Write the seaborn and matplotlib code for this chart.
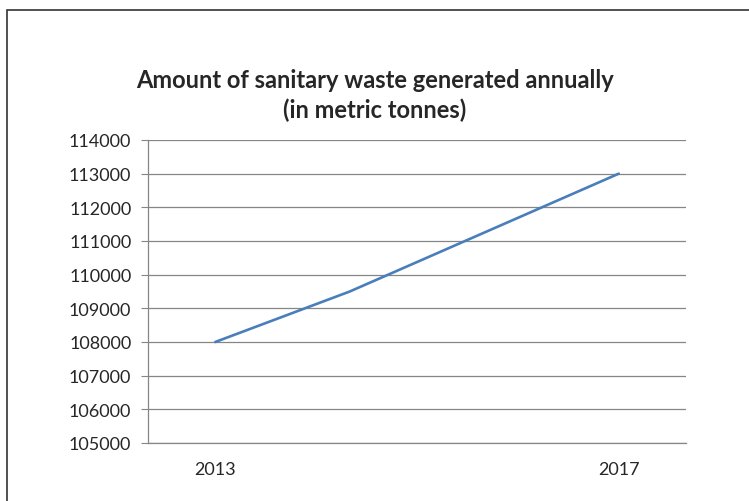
import seaborn as sns
import matplotlib.pyplot as plt
import pandas as pd
from matplotlib.patches import Rectangle

# data
positions = [0, 1, 2, 3]
year_labels = ["2013", "", "", "2017"]
waste = [108000, 109500, 111250, 113000]
y_ticks = list(range(105000, 114001, 1000))

df = pd.DataFrame({"pos": positions, "waste": waste})

sns.set_style("white")
plt.rcParams['font.family'] = ['Lato', 'DejaVu Sans']

fig = plt.figure(figsize=(7.49, 5.02), dpi=100)
ax = fig.add_axes([148 / 749, 1 - 444 / 502, 538 / 749, 303 / 502])

sns.lineplot(data=df, x="pos", y="waste", ax=ax, color="#4A7EBB", linewidth=1.9)

grey = "#868686"
ax.set_ylim(105000, 114000)
ax.set_yticks(y_ticks)
ax.set_yticklabels([str(v) for v in y_ticks], fontsize=13)
ax.yaxis.grid(True, color=grey, linewidth=0.9)
ax.set_xlim(-0.5, 3.5)
ax.set_xticks(positions)
ax.set_xticklabels(year_labels, fontsize=13)
ax.set_xticks([-0.5, 0.5, 1.5, 2.5, 3.5], minor=True)
ax.tick_params(axis="x", which="major", length=0, pad=13)
ax.tick_params(axis="x", which="minor", length=5, color=grey, direction="out")
ax.tick_params(axis="y", length=5, color=grey, direction="out", pad=7, left=True)
ax.set_xlabel("")
ax.set_ylabel("")

for side in ["top", "right"]:
    ax.spines[side].set_visible(False)
for side in ["left", "bottom"]:
    ax.spines[side].set_color(grey)
    ax.spines[side].set_linewidth(0.9)

fig.text(0.5, 1 - 80 / 502, "Amount of sanitary waste generated annually",
         ha="center", va="center", fontsize=17, fontweight="bold")
fig.text(0.5, 1 - 110 / 502, "(in metric tonnes)",
         ha="center", va="center", fontsize=17, fontweight="bold")

# chart frame
fig.patches.append(Rectangle((7 / 749, -0.1), 1.2, 1.1 - 11 / 502,
                             transform=fig.transFigure, fill=False,
                             edgecolor="#333333", linewidth=1.2))

fig.savefig("out.png", dpi=100)
